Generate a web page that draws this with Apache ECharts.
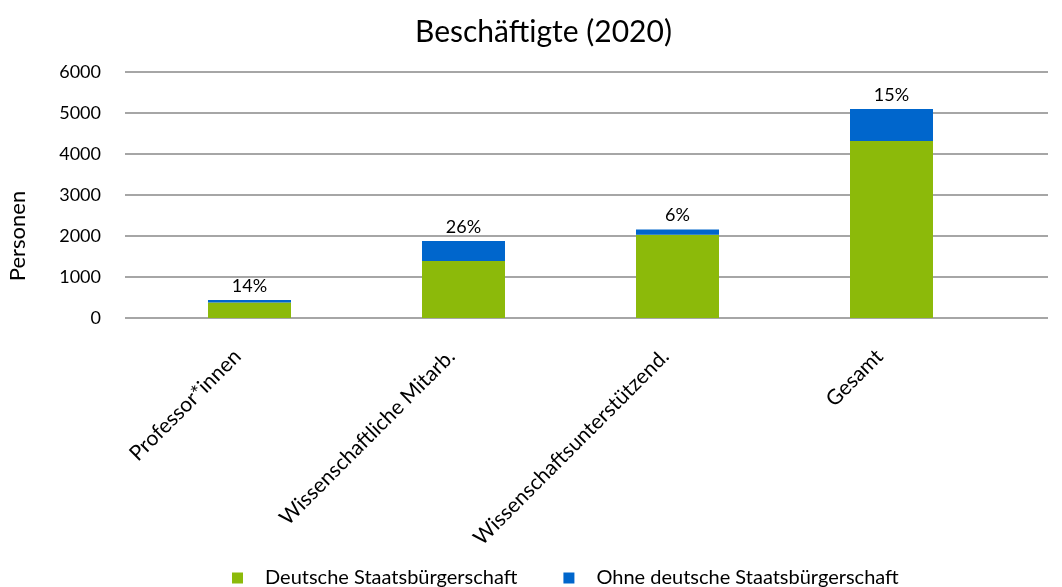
<!DOCTYPE html>
<html>
<head>
<meta charset="utf-8">
<script src="https://cdn.jsdelivr.net/npm/echarts@6/dist/echarts.min.js"></script>
<style>html,body{margin:0;padding:0;background:#fff}#c{width:1062px;height:587px}</style>
</head>
<body>
<div id="c"></div>
<script>
var categories = ['Professor*innen', 'Wissenschaftliche Mitarb.', 'Wissenschaftsunterstützend.', 'Gesamt'];
var deutsche = [378, 1390, 2030, 4320];
var ohne = [62, 490, 130, 780];
var pctLabels = ['14%', '26%', '6%', '15%'];
var yTicks = [0, 1000, 2000, 3000, 4000, 5000, 6000];

var FONT = 'Lato';
var chart = echarts.init(document.getElementById('c'));
chart.setOption({
  animation: false,
  textStyle: { fontFamily: FONT, color: '#000' },
  title: {
    text: 'Beschäftigte (2020)', left: 410, top: 12,
    textStyle: { fontFamily: FONT, fontSize: 30, fontWeight: 'normal', color: '#000' }
  },
  legend: {
    left: 227, top: 563, itemWidth: 11, itemHeight: 11, itemGap: 46,
    icon: 'rect',
    textStyle: { fontFamily: FONT, fontSize: 20, color: '#000', padding: [0, 0, 0, 17] },
    data: ['Deutsche Staatsbürgerschaft', 'Ohne deutsche Staatsbürgerschaft']
  },
  graphic: [{
    type: 'text', x: 18, y: 236, rotation: Math.PI / 2,
    style: { text: 'Personen', fontFamily: FONT, fontSize: 22, fill: '#000', align: 'center', verticalAlign: 'middle' }
  }],
  grid: [
    { left: 125, right: 14, top: 72, height: 246 },
    { left: 142.5, width: 856, top: 72, height: 246 }
  ],
  xAxis: [
    { gridIndex: 0, type: 'value', min: 0, max: 1, show: false },
    {
      gridIndex: 1, type: 'category', data: categories,
      axisLine: { show: false }, axisTick: { show: false },
      axisLabel: { rotate: 45, fontSize: 21, fontFamily: FONT, color: '#000', margin: 23, padding: [0, 17, 0, 0], interval: 0 }
    }
  ],
  yAxis: [
    {
      gridIndex: 0, type: 'value', min: yTicks[0], max: yTicks[yTicks.length - 1], interval: 1000,
      axisLine: { show: false }, axisTick: { show: false },
      axisLabel: { fontSize: 18, fontFamily: FONT, color: '#000', margin: 24, formatter: function (v) { return String(v); } },
      splitLine: { lineStyle: { color: '#a6a6a6', width: 2 } }
    },
    { gridIndex: 1, type: 'value', min: 0, max: 6000, show: false }
  ],
  series: [
    {
      name: 'Deutsche Staatsbürgerschaft', type: 'bar', stack: 's', xAxisIndex: 1, yAxisIndex: 1,
      data: deutsche, barWidth: 83, itemStyle: { color: '#8CBA0A' }
    },
    {
      name: 'Ohne deutsche Staatsbürgerschaft', type: 'bar', stack: 's', xAxisIndex: 1, yAxisIndex: 1,
      data: ohne, barWidth: 83, itemStyle: { color: '#0066CC' },
      label: {
        show: true, position: 'top', distance: 5, fontSize: 18, fontFamily: FONT, color: '#000',
        formatter: function (p) { return pctLabels[p.dataIndex]; }
      }
    }
  ]
});
</script>
</body>
</html>
